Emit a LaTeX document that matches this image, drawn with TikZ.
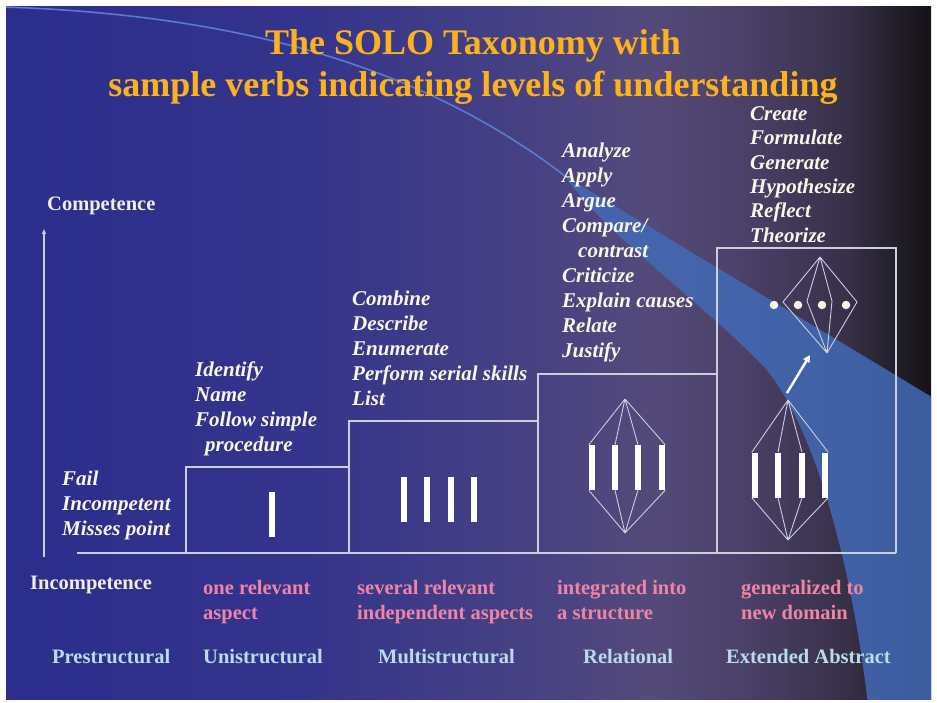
\documentclass[tikz,border=0pt]{standalone}
\usepackage{fontspec}
\setmainfont{Liberation Serif}
\usetikzlibrary{arrows.meta}
\definecolor{bgA}{RGB}{44,46,140}
\definecolor{bgB}{RGB}{52,52,140}
\definecolor{bgC}{RGB}{72,66,130}
\definecolor{bgD}{RGB}{84,74,122}
\definecolor{bgE}{RGB}{74,64,104}
\definecolor{bgF}{RGB}{55,48,72}
\definecolor{bgG}{RGB}{33,29,40}
\definecolor{bgH}{RGB}{20,17,22}
\definecolor{swoosh}{RGB}{66,106,182}
\definecolor{swooshline}{RGB}{92,122,205}
\definecolor{lineclr}{RGB}{205,205,222}
\definecolor{verbclr}{RGB}{250,246,232}
\definecolor{titleclr}{RGB}{252,178,28}
\definecolor{pinkclr}{RGB}{240,132,165}
\definecolor{levelclr}{RGB}{185,220,235}
\definecolor{axisclr}{RGB}{240,236,222}
\pgfdeclarehorizontalshading{slidebg}{100bp}{color(0bp)=(bgA); color(27bp)=(bgA); color(41bp)=(bgB); color(54bp)=(bgC); color(60bp)=(bgD); color(65bp)=(bgE); color(70.5bp)=(bgF); color(73.3bp)=(bgG); color(75bp)=(bgH); color(100bp)=(bgH)}
\tikzset{
  verbs/.style={font=\fontsize{21}{25}\selectfont\bfseries\itshape, text=verbclr, align=left, anchor=north west, inner sep=0pt},
  lbl/.style={font=\fontsize{20.5}{25}\selectfont\bfseries, anchor=base west, inner sep=0pt},
  pinktxt/.style={font=\fontsize{20.5}{25}\selectfont\bfseries, text=pinkclr, align=left, anchor=north west, inner sep=0pt},
  levelname/.style={lbl, text=levelclr},
  stepline/.style={draw=lineclr, line width=1.4pt},
  netline/.style={draw=lineclr, line width=0.9pt},
  bar/.style={rectangle, fill=white, minimum width=6pt, minimum height=45pt, inner sep=0pt},
  dotnode/.style={circle, fill=verbclr, minimum size=8.5pt, inner sep=0pt}
}
\begin{document}
\begin{tikzpicture}[x=1pt,y=-1pt]
\useasboundingbox (0,0) rectangle (937,703);
\fill[white] (0,0) rectangle (937,703);
\shade[shading=slidebg] (6,7) rectangle (931,699);
\begin{scope}
  \clip (6,7) rectangle (931,699);
  \fill[swoosh, opacity=0.85] (565,176) -- (940,402) -- (940,705) -- (868,705)
     .. controls (850,550) and (810,420) .. (765,368)
     .. controls (700,300) and (600,230) .. (565,176) -- cycle;
  \draw[swooshline, line width=1.6pt] (4,7) .. controls (250,15) and (430,72) .. (565,176);
\end{scope}

% title
\node[font=\fontsize{36}{41.5}\selectfont\bfseries, text=titleclr, align=center, anchor=north, inner sep=0pt] (title) at (473,25.5)
  {\strut The SOLO Taxonomy with\\sample verbs indicating levels of understanding};

% axis
\coordinate (axbot) at (44,557);
\coordinate (axtop) at (44,229);
\draw[draw=lineclr, line width=1.2pt, -{Triangle[length=5pt,width=4pt]}] (axbot) -- (axtop);
\node[lbl, text=axisclr] (comp) at (47,211) {Competence};
\node[lbl, text=axisclr] (incomp) at (30,589) {Incompetence};

% steps
\draw[stepline] (77,553) -- (896,553);
\draw[stepline] (186,553) -- (186,467) -- (349,467) -- (349,421) -- (538,421) -- (538,374) -- (717,374) -- (717,248) -- (896,248) -- (896,553);
\draw[stepline] (349,467) -- (349,553) (538,421) -- (538,553) (717,374) -- (717,553);

% unistructural
\node[bar] (u1) at (272,514.5) {};
% multistructural
\node[bar] (m1) at (404,499.5) {};
\node[bar] (m2) at (427,499.5) {};
\node[bar] (m3) at (451,499.5) {};
\node[bar] (m4) at (474,499.5) {};
% relational
\coordinate (rt) at (625,399);
\coordinate (rb) at (625,533);
\node[bar] (r1) at (592,467.5) {};
\node[bar] (r2) at (615,467.5) {};
\node[bar] (r3) at (638,467.5) {};
\node[bar] (r4) at (662,467.5) {};
\draw[netline] (rt) -- (r1.north west) (rt) -- (r2.north) (rt) -- (r3.north) (rt) -- (r4.north east);
\draw[netline] (rb) -- (r1.south west) (rb) -- (r2.south) (rb) -- (r3.south) (rb) -- (r4.south east);
% extended abstract lower
\coordinate (et) at (788,400);
\coordinate (eb) at (788,540);
\node[bar] (e1) at (755,475) {};
\node[bar] (e2) at (778,475) {};
\node[bar] (e3) at (802,475) {};
\node[bar] (e4) at (825,475) {};
\draw[netline] (et) -- (e1.north west) (et) -- (e2.north) (et) -- (e3.north) (et) -- (e4.north east);
\draw[netline] (eb) -- (e1.south west) (eb) -- (e2.south) (eb) -- (e3.south) (eb) -- (e4.south east);
% arrow up
\coordinate (as) at (787,393);
\coordinate (ae) at (810,355);
\draw[white, line width=2.4pt, -{Triangle[length=7pt,width=7pt]}] (as) -- (ae);
% extended abstract upper
\coordinate (ut) at (820,257);
\coordinate (ub) at (827,353);
\coordinate (j1) at (783,302);
\coordinate (j2) at (807,301);
\coordinate (j3) at (832,301);
\coordinate (j4) at (857,302);
\draw[netline] (ut) -- (j1) -- (ub) (ut) -- (j2) -- (ub) (ut) -- (j3) -- (ub) (ut) -- (j4) -- (ub);
\node[dotnode] (d1) at (774,305) {};
\node[dotnode] (d2) at (798,305) {};
\node[dotnode] (d3) at (822,305) {};
\node[dotnode] (d4) at (846,305) {};

% verbs
\node[verbs] (vpre) at (62,467.5) {\strut Fail\\Incompetent\\Misses point};
\node[verbs] (vuni) at (195,359) {\strut Identify\\Name\\Follow simple\\\hspace*{10pt}procedure};
\node[verbs] (vmul) at (352,288) {\strut Combine\\Describe\\Enumerate\\Perform serial skills\\List};
\node[verbs] (vrel) at (562,139.5) {\strut Analyze\\Apply\\Argue\\Compare/\\\hspace*{16pt}contrast\\Criticize\\Explain causes\\Relate\\Justify};
\node[verbs, font=\fontsize{21}{24.4}\selectfont\bfseries\itshape] (vext) at (750,103) {\strut Create\\Formulate\\Generate\\Hypothesize\\Reflect\\Theorize};

% descriptions
\node[pinktxt] (pu) at (203,576.5) {\strut one relevant\\aspect};
\node[pinktxt] (pm) at (357,576.5) {\strut several relevant\\independent aspects};
\node[pinktxt] (pr) at (557,576.5) {\strut integrated into\\a structure};
\node[pinktxt] (pe) at (741,576.5) {\strut generalized to\\new domain};

% level names
\node[levelname] (lpre) at (52,663) {Prestructural};
\node[levelname] (luni) at (203,663) {Unistructural};
\node[levelname] (lmul) at (378,663) {Multistructural};
\node[levelname] (lrel) at (583,663) {Relational};
\node[levelname] (lext) at (726,663) {Extended Abstract};
\end{tikzpicture}
\end{document}
